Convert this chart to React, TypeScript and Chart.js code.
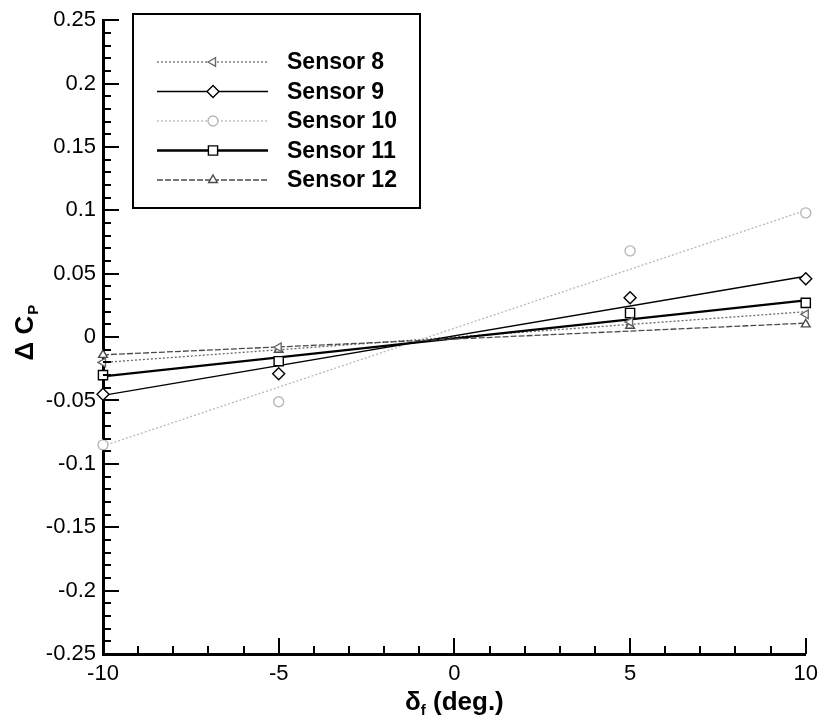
import React, { useEffect, useRef } from "react";
import { Chart, registerables } from "chart.js";

Chart.register(...registerables);

// ---- data ----
const deflection = [-10, -5, 5, 10];
const sensor8 = [-0.02, -0.008, 0.012, 0.018];
const sensor9 = [-0.045, -0.029, 0.031, 0.046];
const sensor10 = [-0.085, -0.051, 0.068, 0.098];
const sensor11 = [-0.03, -0.019, 0.019, 0.027];
const sensor12 = [-0.014, -0.01, 0.009, 0.01];

// linear-fit lines (endpoints at the axis limits)
const fitRange = [-10, 10];
const fit8 = [-0.02, 0.02];
const fit9 = [-0.046, 0.048];
const fit10 = [-0.086, 0.1];
const fit11 = [-0.031, 0.029];
const fit12 = [-0.014, 0.011];

const xTicks = [-10, -5, 0, 5, 10];
const yTicks = [-0.25, -0.2, -0.15, -0.1, -0.05, 0, 0.05, 0.1, 0.15, 0.2, 0.25];
const seriesNames = ["Sensor 8", "Sensor 9", "Sensor 10", "Sensor 11", "Sensor 12"];

const FONT = '"Liberation Sans", Arial, Helvetica, sans-serif';

type Sty = { color: string; dash: number[]; width: number; point: string; rotation: number; radius: number };
const styles: Sty[] = [
  { color: "#6a6a6a", dash: [2, 2], width: 1.3, point: "triangle", rotation: -90, radius: 5 },
  { color: "#000000", dash: [], width: 1.4, point: "rectRot", rotation: 0, radius: 6 },
  { color: "#b8b8b8", dash: [2, 2], width: 1.3, point: "circle", rotation: 0, radius: 5 },
  { color: "#000000", dash: [], width: 2.4, point: "rect", rotation: 0, radius: 6.5 },
  { color: "#4a4a4a", dash: [6, 2], width: 1.3, point: "triangle", rotation: 0, radius: 5 },
];

const values = [sensor8, sensor9, sensor10, sensor11, sensor12];
const fits = [fit8, fit9, fit10, fit11, fit12];

function drawMarker(ctx: CanvasRenderingContext2D, s: Sty, x: number, y: number) {
  const r = s.radius;
  ctx.save();
  ctx.translate(x, y);
  ctx.rotate((s.rotation * Math.PI) / 180);
  ctx.beginPath();
  if (s.point === "circle") {
    ctx.arc(0, 0, r, 0, Math.PI * 2);
  } else if (s.point === "rectRot") {
    ctx.moveTo(0, -r);
    ctx.lineTo(r, 0);
    ctx.lineTo(0, r);
    ctx.lineTo(-r, 0);
    ctx.closePath();
  } else if (s.point === "rect") {
    const h = r * Math.SQRT1_2;
    ctx.rect(-h, -h, 2 * h, 2 * h);
  } else {
    const h = r * 0.866;
    ctx.moveTo(0, -r);
    ctx.lineTo(h, r * 0.5);
    ctx.lineTo(-h, r * 0.5);
    ctx.closePath();
  }
  ctx.fillStyle = "#ffffff";
  ctx.fill();
  ctx.setLineDash([]);
  ctx.lineWidth = 1.4;
  ctx.strokeStyle = s.color;
  ctx.stroke();
  ctx.restore();
}

const decorPlugin = {
  id: "decor",
  afterDraw(chart: any) {
    const ctx: CanvasRenderingContext2D = chart.ctx;
    const xs = chart.scales.x;
    const ys = chart.scales.y;
    const area = chart.chartArea;
    ctx.save();
    ctx.strokeStyle = "#000";
    ctx.lineWidth = 2;
    ctx.setLineDash([]);
    // y ticks (inward)
    for (let i = -25; i <= 25; i++) {
      const y = Math.round(ys.getPixelForValue(i / 100));
      const len = i % 5 === 0 ? 16 : 8;
      ctx.beginPath();
      ctx.moveTo(area.left, y);
      ctx.lineTo(area.left + len, y);
      ctx.stroke();
    }
    // x ticks (inward)
    for (let i = -10; i <= 10; i++) {
      const x = Math.round(xs.getPixelForValue(i));
      const len = i % 5 === 0 ? 16 : 8;
      ctx.beginPath();
      ctx.moveTo(x, area.bottom);
      ctx.lineTo(x, area.bottom - len);
      ctx.stroke();
    }

    // legend
    const bx = 133, by = 14, bw = 287, bh = 194;
    ctx.fillStyle = "#fff";
    ctx.fillRect(bx, by, bw, bh);
    ctx.lineWidth = 2;
    ctx.strokeStyle = "#000";
    ctx.strokeRect(bx, by, bw, bh);
    seriesNames.forEach((name, i) => {
      const s = styles[i];
      const y = 62 + i * 29.5;
      ctx.save();
      ctx.strokeStyle = s.color;
      ctx.lineWidth = s.width;
      ctx.setLineDash(s.dash);
      ctx.beginPath();
      ctx.moveTo(157, y);
      ctx.lineTo(268, y);
      ctx.stroke();
      ctx.restore();
      drawMarker(ctx, s, 213, y);
      ctx.fillStyle = "#000";
      ctx.font = `bold 23px ${FONT}`;
      ctx.textBaseline = "middle";
      ctx.textAlign = "left";
      ctx.fillText(name, 287, y + 1);
    });

    // x title: δf (deg.)
    ctx.fillStyle = "#000";
    ctx.textBaseline = "alphabetic";
    ctx.textAlign = "left";
    const big = `bold 26px ${FONT}`;
    const small = `bold 15px ${FONT}`;
    ctx.font = big;
    const w1 = ctx.measureText("δ").width;
    const w3 = ctx.measureText(" (deg.)").width;
    ctx.font = small;
    const w2 = ctx.measureText("f").width;
    const cx = (area.left + area.right) / 2;
    const x0 = cx - (w1 + w2 + w3) / 2;
    const base = 710;
    ctx.font = big;
    ctx.fillText("δ", x0, base);
    ctx.font = small;
    ctx.fillText("f", x0 + w1, base + 5);
    ctx.font = big;
    ctx.fillText(" (deg.)", x0 + w1 + w2, base);

    // y title: Δ CP
    ctx.save();
    ctx.translate(33, (area.top + area.bottom) / 2 - 4);
    ctx.rotate(-Math.PI / 2);
    ctx.font = big;
    const t1 = ctx.measureText("Δ C").width;
    ctx.font = small;
    const t2 = ctx.measureText("P").width;
    const y0 = -(t1 + t2) / 2;
    ctx.font = big;
    ctx.fillText("Δ C", y0, 0);
    ctx.font = small;
    ctx.fillText("P", y0 + t1 + 1, 5);
    ctx.restore();

    ctx.restore();
  },
};

export default function App() {
  const ref = useRef<HTMLCanvasElement | null>(null);
  useEffect(() => {
    document.body.style.margin = "0";
    const canvas = ref.current!;
    const datasets: any[] = [];
    fits.forEach((f, i) => {
      const s = styles[i];
      datasets.push({
        type: "line",
        label: seriesNames[i] + " fit",
        data: fitRange.map((x, k) => ({ x, y: f[k] })),
        borderColor: s.color,
        borderWidth: s.width,
        borderDash: s.dash,
        pointRadius: 0,
        fill: false,
        order: 10 - i,
      });
    });
    values.forEach((v, i) => {
      const s = styles[i];
      datasets.push({
        type: "scatter",
        label: seriesNames[i],
        data: deflection.map((x, k) => ({ x, y: v[k] })),
        showLine: false,
        pointStyle: s.point,
        rotation: s.rotation,
        pointRadius: s.radius,
        pointBorderWidth: 1.4,
        pointBorderColor: s.color,
        pointBackgroundColor: "#ffffff",
        borderColor: s.color,
        backgroundColor: "#ffffff",
        clip: false,
        order: 0,
      });
    });
    const chart = new Chart(canvas, {
      type: "scatter",
      data: { datasets },
      options: {
        responsive: false,
        animation: false,
        devicePixelRatio: 1,
        layout: { padding: { top: 14, right: 17, bottom: 0, left: 0 } },
        plugins: { legend: { display: false }, tooltip: { enabled: false } },
        scales: {
          x: {
            type: "linear",
            min: -10,
            max: 10,
            afterBuildTicks: (sc: any) => {
              sc.ticks = xTicks.map((v) => ({ value: v }));
            },
            afterFit: (sc: any) => {
              sc.height = 67;
            },
            grid: { display: false, drawTicks: false },
            border: { display: true, width: 3, color: "#000" },
            ticks: {
              padding: 7,
              color: "#000",
              font: { family: FONT, size: 22 },
              maxRotation: 0,
              callback: (v: any) => String(v),
            },
          },
          y: {
            type: "linear",
            min: -0.25,
            max: 0.25,
            afterBuildTicks: (sc: any) => {
              sc.ticks = yTicks.map((v) => ({ value: v }));
            },
            afterFit: (sc: any) => {
              sc.width = 103;
            },
            grid: { display: false, drawTicks: false },
            border: { display: true, width: 3, color: "#000" },
            ticks: {
              padding: 7,
              color: "#000",
              font: { family: FONT, size: 22 },
              callback: (v: any) => String(Math.round(Number(v) * 100) / 100),
            },
          },
        },
      } as any,
      plugins: [decorPlugin],
    });
    return () => chart.destroy();
  }, []);
  return (
    <div style={{ width: 825, height: 721 }}>
      <canvas ref={ref} width={825} height={721} style={{ display: "block" }} />
    </div>
  );
}
